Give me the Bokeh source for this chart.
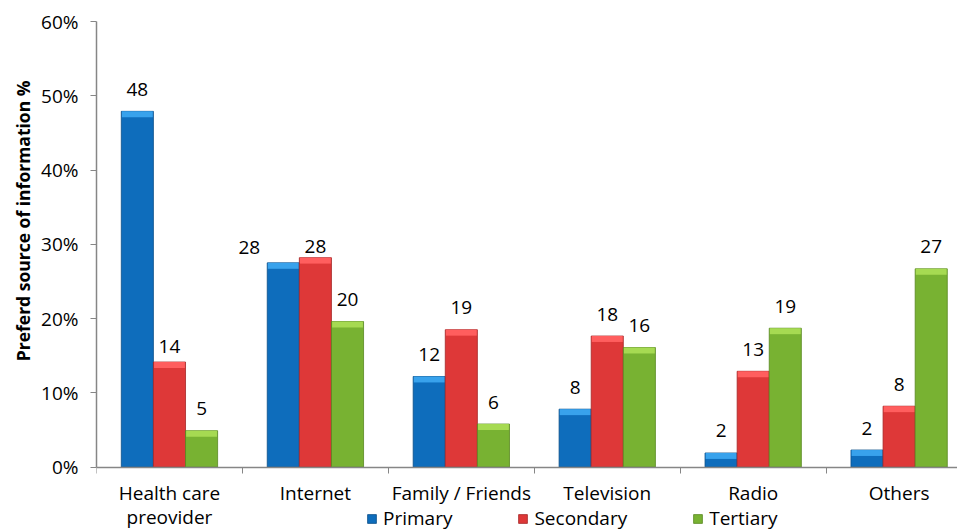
from bokeh.plotting import figure
from bokeh.models import (ColumnDataSource, Range1d, FixedTicker, Legend, LegendItem,
                          LabelSet, PrintfTickFormatter, Title)
from bokeh.core.properties import value
from bokeh.embed import file_html
from bokeh.resources import INLINE

# ---------------- data ----------------
categories = ["Health care\npreovider", "Internet", "Family / Friends", "Television", "Radio", "Others"]
series_names = ["Primary", "Secondary", "Tertiary"]
primary = [47.9, 27.5, 12.2, 7.8, 1.9, 2.3]
secondary = [14.15, 28.2, 18.5, 17.65, 12.9, 8.2]
tertiary = [4.9, 19.6, 5.8, 16.1, 18.7, 26.7]
primary_labels = ["48", "28", "12", "8", "2", "2"]
secondary_labels = ["14", "28", "19", "18", "13", "8"]
tertiary_labels = ["5", "20", "6", "16", "19", "27"]
y_ticks = [0, 10, 20, 30, 40, 50, 60]
y_title = "Preferd source of information %"

# ---------------- styles ----------------
FONT = "Open Sans"
bar_w = 0.22
offsets = [-0.22, 0.0, 0.22]
main_colors = ["#0E6DBC", "#DE3838", "#78B232"]
cap_colors = ["#38A2EC", "#FF5E5E", "#A6DA52"]
edge_colors = ["#0A4E88", "#A52626", "#58881F"]
cap_depth = 0.8
# per-label screen offsets (label placement tweaks)
label_dx = [[0, -34, 0, 0, 0, 0], [0] * 6, [0] * 6]
label_dy = [[22, 15, 22, 22, 22, 22], [16, 11, 22, 22, 22, 22], [22] * 6]

values = [primary, secondary, tertiary]
labels = [primary_labels, secondary_labels, tertiary_labels]

p = figure(width=957, height=531, output_backend="svg", toolbar_location=None,
           x_range=Range1d(0, 5.9), y_range=Range1d(-8.67, 60),
           min_border_left=96, min_border_top=21, min_border_right=0, min_border_bottom=0)
p.outline_line_color = None
p.grid.visible = False
p.background_fill_color = "white"
p.border_fill_color = "white"

centers = [i + 0.5 for i in range(len(categories))]

renderers = []
for s in range(3):
    xs = [c + offsets[s] for c in centers]
    src = ColumnDataSource(dict(
        x=xs, top=values[s],
        cap_bottom=[max(v - cap_depth, 0) for v in values[s]],
        text=labels[s], dx=label_dx[s], dy=label_dy[s]))
    r = p.vbar(x="x", top="top", bottom=0, width=bar_w, source=src,
               fill_color=main_colors[s], line_color=edge_colors[s], line_width=0.8)
    p.vbar(x="x", top="top", bottom="cap_bottom", width=bar_w * 0.96, source=src,
           fill_color=cap_colors[s], line_color=None)
    renderers.append(r)
    ls = LabelSet(x="x", y="top", text="text", source=src, x_offset="dx", y_offset="dy",
                  text_align="center", text_baseline="middle",
                  text_font=value(FONT), text_font_size="19px", text_color="#000000")
    p.add_layout(ls)

# x axis (drawn at y = 0)
xa = p.xaxis[0]
xa.fixed_location = 0
xa.ticker = FixedTicker(ticks=centers, minor_ticks=list(range(0, len(categories) + 1)))
xa.major_label_overrides = {c: lab for c, lab in zip(centers, categories)}
xa.major_tick_line_color = None
xa.major_tick_out = 0
xa.major_tick_in = 0
xa.minor_tick_out = 6
xa.minor_tick_in = 0
xa.minor_tick_line_color = "#868686"
xa.axis_line_color = "#868686"
xa.axis_line_width = 1.5
xa.major_label_standoff = 7
xa.major_label_text_font = FONT
xa.major_label_text_font_size = "19px"
xa.major_label_text_line_height = 0.9
xa.major_label_text_color = "#000000"

# y axis
ya = p.yaxis[0]
ya.bounds = (0, 60)
ya.ticker = FixedTicker(ticks=y_ticks)
ya.formatter = PrintfTickFormatter(format="%d%%")
ya.minor_tick_line_color = None
ya.major_tick_out = 6
ya.major_tick_in = 0
ya.major_tick_line_color = "#868686"
ya.axis_line_color = "#868686"
ya.axis_line_width = 1.5
ya.major_label_standoff = 12
ya.major_label_text_font = FONT
ya.major_label_text_font_size = "19px"
ya.major_label_text_color = "#000000"

ytitle = Title(text=y_title, align="right", offset=59, standoff=8,
               text_font=FONT, text_font_style="bold", text_font_size="17.5px",
               text_color="#000000")
p.add_layout(ytitle, "left")

legend = Legend(items=[LegendItem(label=n, renderers=[r]) for n, r in zip(series_names, renderers)],
                orientation="horizontal", location=(270, 0),
                padding=0, margin=0, spacing=65, label_standoff=6,
                glyph_width=11, glyph_height=11,
                label_text_font=FONT, label_text_font_size="19px", label_text_color="#000000",
                border_line_color=None, background_fill_alpha=0)
p.add_layout(legend)

open("out.html", "w").write(file_html(p, INLINE))
